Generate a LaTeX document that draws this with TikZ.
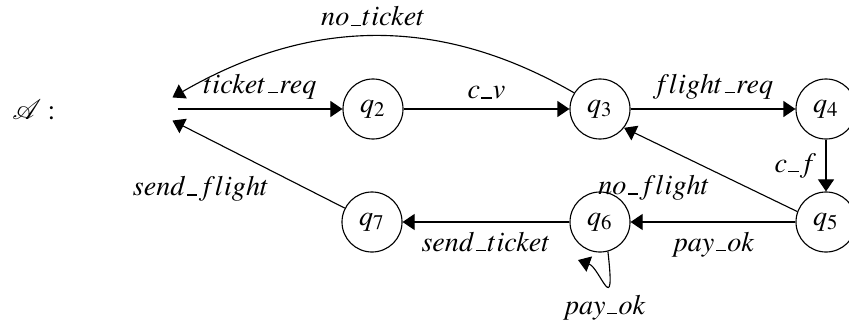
\documentclass[tikz,border=0pt]{standalone}
\usepackage{mathptmx}
\usetikzlibrary{arrows.meta}
\newcommand{\usc}{\mbox{\kern0.05em\rule{0.36em}{0.5pt}\kern0.05em}}

\begin{document}
\begin{tikzpicture}[x=0.0125cm, y=-0.0125cm,
      stnode/.style={draw, circle, minimum size=0.75cm, inner sep=0pt},
      trans/.style={-{Triangle[length=0.15cm, width=0.2cm]}},
      lab/.style={inner sep=0pt}]
    \useasboundingbox (0,0) rectangle (849,326);
    % automaton name
    \node (name) at (34,110) {$\mathcal{A} :$};
    % start point and states
    \node[inner sep=0pt, minimum width=0.05cm, minimum height=0.275cm]
          (init) at (175,109) {};
    \node[stnode] (q2) at (373,109) {$q_2$};
    \node[stnode] (q3) at (600,109) {$q_3$};
    \node[stnode] (q4) at (826,109) {$q_4$};
    \node[stnode] (q5) at (826,222) {$q_5$};
    \node[stnode] (q6) at (600,222) {$q_6$};
    \node[stnode] (q7) at (372,222) {$q_7$};
    \coordinate (loopend) at (578,260);
    % transitions
    \draw[trans] (init.east) -- (q2)
          node[midway, above] {$ticket\usc req$};
    \draw[trans] (q2) -- (q3) node[midway, above] {$c\usc v$};
    \draw[trans] (q3) -- (q4) node[midway, above] {$flight\usc req$};
    \draw[trans] (q4) -- (q5) node[midway, left] {$c\usc f$};
    \draw[trans] (q5) -- (q6) node[midway, below] {$pay\usc ok$};
    \draw[trans] (q6) -- (q7) node[midway, below] {$send\usc ticket$};
    \draw[trans] (q3.148) to[out=150, in=30]
          node[midway, above] {$no\usc ticket$} (init.north west);
    \draw[trans] (q5.160) -- (q3.-38);
    \node[lab] (noflight) at (654,188) {$no\usc flight$};
    \draw[trans] (q7.153) -- (init.south west);
    \node[lab] (sendflight) at (201,189) {$send\usc flight$};
    \draw[trans] (q6.-75) .. controls (616,322) and (600,268) .. (loopend)
          node[midway, below] {$pay\usc ok$};
  \end{tikzpicture}
\end{document}
